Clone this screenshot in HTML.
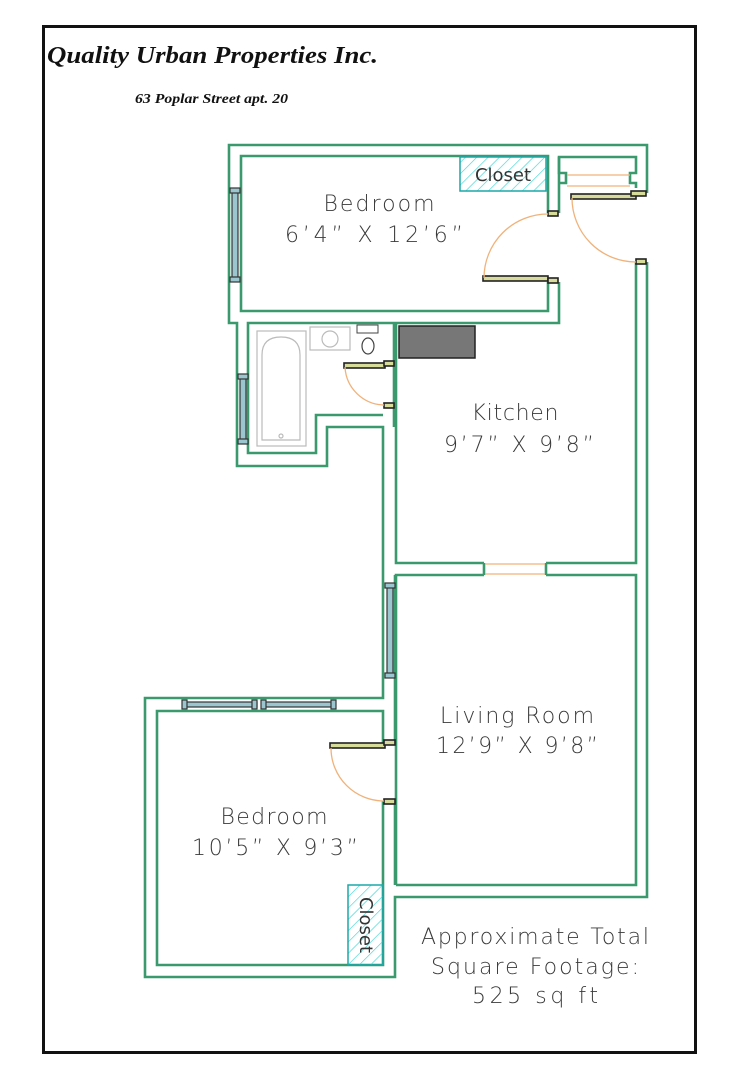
<!DOCTYPE html>
<html><head><meta charset="utf-8"><style>
html,body{margin:0;padding:0;background:#fff;}
svg{display:block;}
.w{fill:none;stroke:#3a9a6e;stroke-width:2.6;}
.t{font-family:"DejaVu Sans","Liberation Sans",sans-serif;font-size:22px;fill:#3a3a3a;text-anchor:middle;letter-spacing:2px;font-weight:200;}
.leaf{fill:#d8dc9a;stroke:#222;stroke-width:1.6;}
.arc{fill:none;stroke:#f0b27a;stroke-width:1.3;}
.win{fill:#9cc6cf;stroke:#333;stroke-width:1.2;}
.fx{fill:none;stroke:#bbb;stroke-width:1.2;}
</style></head><body>
<svg width="733" height="1080" viewBox="0 0 733 1080" xmlns="http://www.w3.org/2000/svg">
<defs>
<pattern id="h" width="8" height="8" patternUnits="userSpaceOnUse" patternTransform="rotate(45)">
<line x1="0" y1="0" x2="0" y2="8" stroke="#3fd6d6" stroke-width="1.3"/>
</pattern>
</defs>
<rect x="43.5" y="26.5" width="652" height="1026" fill="none" stroke="#111" stroke-width="3"/>
<text x="47" y="63" font-family="Liberation Serif,serif" font-style="italic" font-weight="bold" font-size="24" fill="#111" textLength="331" lengthAdjust="spacingAndGlyphs">Quality Urban Properties Inc.</text>
<text x="135" y="103" font-family="Liberation Serif,serif" font-style="italic" font-weight="bold" font-size="14" fill="#111" textLength="153" lengthAdjust="spacingAndGlyphs">63 Poplar Street apt. 20</text>

<path class="w" d="M559,213 V157 H636 V173 H630 V183 H636 V188 M647,193 V145 H229 V323 H237 V466 H327 V427 H383 V698 H145 V977 H395 V897 H647 V262"/>
<path class="w" d="M559,157 V173 H566 V183 H559"/>
<path class="w" d="M548,213 V156 H241 V311 H548 V282 M559,282 V323 H248 V453 H316 V415 H383"/>
<path class="w" d="M636,262 V563 H546 M484,563 H396 V323 M394,427 V323"/>
<path class="w" d="M396,885 V575 H484 M546,575 H636 V885 H396"/>
<path class="w" d="M383,801 V965 H157 V711 H383 V744 M395,744 V575 M395,801 V885"/>
<line x1="484" y1="563" x2="484" y2="575" class="w"/><line x1="546" y1="563" x2="546" y2="575" class="w"/>
<line x1="485" y1="564" x2="545" y2="564" class="arc"/><line x1="485" y1="574" x2="545" y2="574" class="arc"/>
<line x1="567" y1="175" x2="630" y2="175" class="arc"/><line x1="567" y1="186" x2="630" y2="186" class="arc"/>

<rect x="460" y="157" width="86" height="34" fill="url(#h)" stroke="#1aa8a8" stroke-width="1.5"/>
<text x="503" y="181" font-family="DejaVu Sans,sans-serif" font-size="18" fill="#333" text-anchor="middle">Closet</text>
<rect x="348" y="885" width="35" height="80" fill="url(#h)" stroke="#1aa8a8" stroke-width="1.5"/>
<text transform="translate(360,925) rotate(90)" font-family="DejaVu Sans,sans-serif" font-size="18" fill="#333" text-anchor="middle">Closet</text>

<rect x="232" y="190" width="6" height="90" class="win"/><rect x="230" y="188" width="10" height="5" class="win"/><rect x="230" y="277" width="10" height="5" class="win"/>
<rect x="240" y="376" width="6" height="66" class="win"/><rect x="238" y="374" width="10" height="5" class="win"/><rect x="238" y="439" width="10" height="5" class="win"/>
<rect x="387" y="585" width="6" height="90" class="win"/><rect x="385" y="583" width="10" height="5" class="win"/><rect x="385" y="673" width="10" height="5" class="win"/>
<rect x="184" y="702" width="73" height="5" class="win"/><rect x="182" y="700" width="5" height="9" class="win"/><rect x="252" y="700" width="5" height="9" class="win"/>
<rect x="262" y="702" width="73" height="5" class="win"/><rect x="261" y="700" width="5" height="9" class="win"/><rect x="331" y="700" width="5" height="9" class="win"/>

<rect x="483" y="276" width="65" height="5" class="leaf"/><rect x="548" y="278" width="10" height="5" class="leaf"/><rect x="548" y="211" width="10" height="5" class="leaf"/>
<path class="arc" d="M484,278 A64,64 0 0 1 548,214"/>
<rect x="571" y="194" width="65" height="5" class="leaf"/><rect x="631" y="191" width="15" height="5" class="leaf"/><rect x="636" y="259" width="10" height="5" class="leaf"/>
<path class="arc" d="M572,198 A64,64 0 0 0 636,262"/>
<rect x="344" y="363" width="41" height="5" class="leaf"/><rect x="384" y="361" width="10" height="5" class="leaf"/><rect x="384" y="403" width="10" height="5" class="leaf"/>
<path class="arc" d="M345,367 A40,40 0 0 0 384,405"/>
<rect x="330" y="743" width="55" height="5" class="leaf"/><rect x="384" y="740" width="11" height="5" class="leaf"/><rect x="384" y="799" width="11" height="5" class="leaf"/>
<path class="arc" d="M331,748 A53,53 0 0 0 384,801"/>

<rect x="399" y="326" width="76" height="32" fill="#777" stroke="#222" stroke-width="1.5"/>
<rect x="257" y="331" width="49" height="115" class="fx"/>
<path class="fx" d="M262,440 V355 Q262,337 281,337 Q300,337 300,355 V440 Z"/>
<circle cx="281" cy="436" r="2" class="fx"/>
<rect x="310" y="327" width="40" height="23" class="fx"/><circle cx="330" cy="339" r="8" class="fx"/>
<rect x="357" y="325" width="21" height="8" fill="none" stroke="#444" stroke-width="1"/>
<ellipse cx="368" cy="346" rx="6" ry="8" fill="none" stroke="#444" stroke-width="1.2"/>

<text class="t" x="380" y="211" textLength="113">Bedroom</text>
<text class="t" x="375" y="242" textLength="180">6’4”  X  12’6”</text>
<text class="t" x="516" y="420" textLength="89">Kitchen</text>
<text class="t" x="520" y="452" textLength="152">9’7”  X  9’8”</text>
<text class="t" x="518" y="723" textLength="156">Living  Room</text>
<text class="t" x="518" y="753" textLength="164">12’9”  X  9’8”</text>
<text class="t" x="275" y="824" textLength="109">Bedroom</text>
<text class="t" x="276" y="855" textLength="168">10’5”  X  9’3”</text>
<text class="t" x="536" y="944" textLength="230">Approximate  Total</text>
<text class="t" x="536" y="974" textLength="210">Square  Footage:</text>
<text class="t" x="536" y="1003" textLength="128">525  sq  ft</text>
</svg>
</body></html>
